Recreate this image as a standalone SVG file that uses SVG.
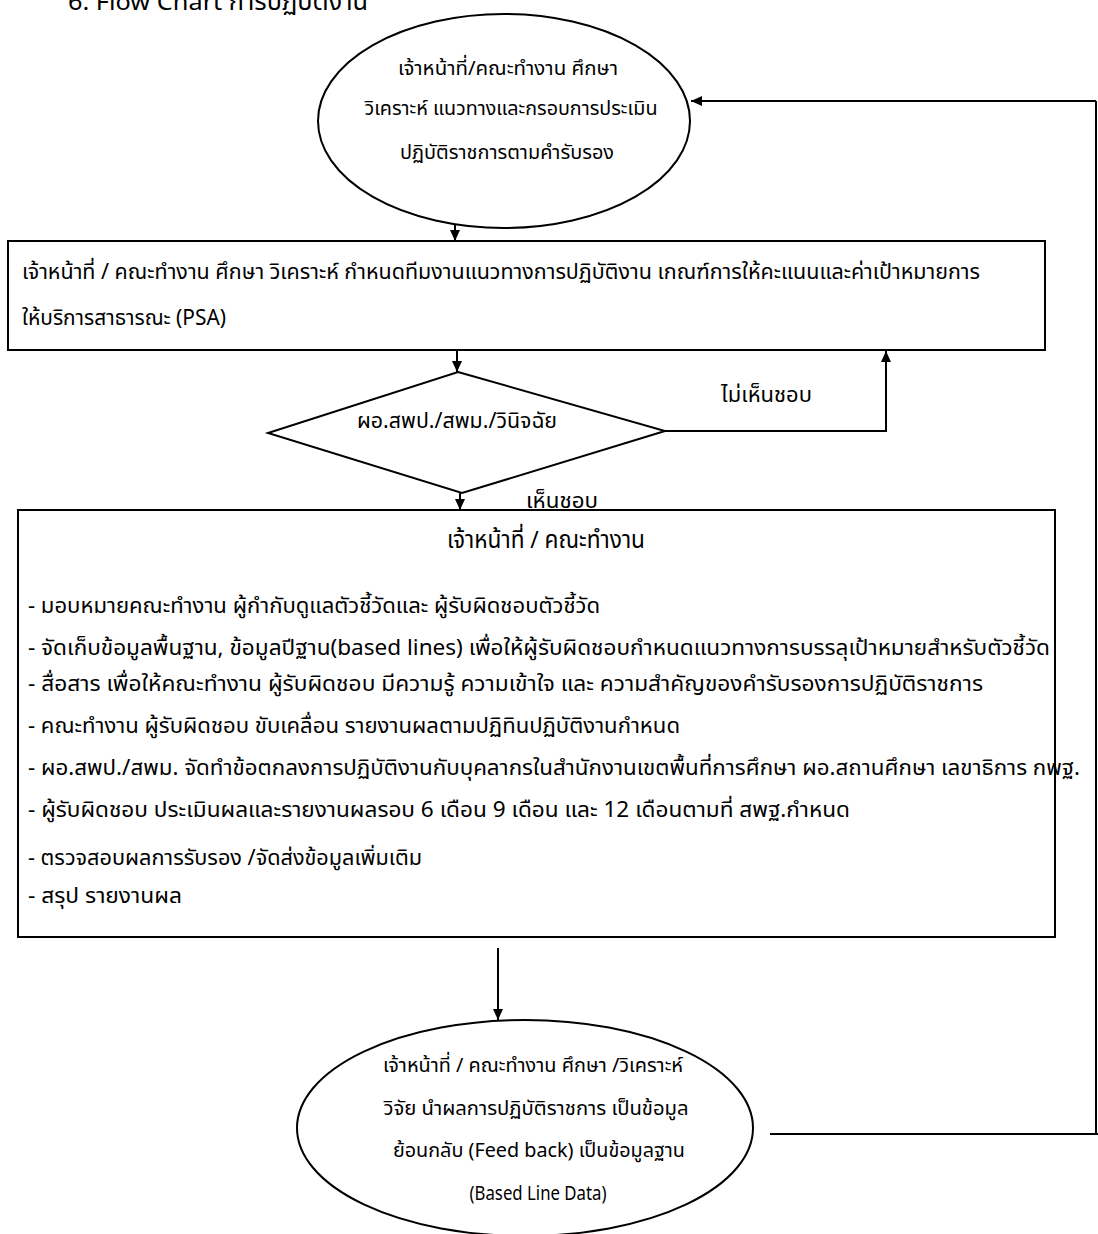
<svg xmlns="http://www.w3.org/2000/svg" width="1098" height="1234" viewBox="0 0 1098 1234">
<defs>
<marker id="arr" markerWidth="12" markerHeight="12" refX="11" refY="6" orient="auto" markerUnits="userSpaceOnUse">
<path d="M0,1 L11,6 L0,11 Z" fill="#000"/>
</marker>
<style>
.shape{fill:#fff;stroke:#000;stroke-width:2}
.conn{fill:none;stroke:#000;stroke-width:2}
.t{font-family:"Noto Sans Thai","Noto Sans","DejaVu Sans",sans-serif;font-size:21px;fill:#000}
.e{font-family:"Noto Sans Thai","Noto Sans","DejaVu Sans",sans-serif;font-size:20px;fill:#000}
.h{font-family:"Noto Sans Thai","Noto Sans","DejaVu Sans",sans-serif;font-size:24px;fill:#000}
</style>
</defs>
<rect width="1098" height="1234" fill="#fff"/>
<text class="h" x="68" y="10" textLength="300" lengthAdjust="spacingAndGlyphs">6. Flow Chart การปฏิบัติงาน</text>

<g id="connectors">
<line class="conn" x1="455" y1="224" x2="455" y2="241" marker-end="url(#arr)"/>
<line class="conn" x1="457" y1="350" x2="457" y2="372" marker-end="url(#arr)"/>
<polyline class="conn" points="665,431 886,431 886,351" marker-end="url(#arr)"/>
<line class="conn" x1="460" y1="493" x2="460" y2="510" marker-end="url(#arr)"/>
<line class="conn" x1="498" y1="948" x2="498" y2="1020" marker-end="url(#arr)"/>
<line class="conn" x1="770" y1="1134" x2="1098" y2="1134"/>
<line class="conn" x1="1096" y1="1134" x2="1096" y2="101"/>
<line class="conn" x1="1096" y1="101" x2="691" y2="101" marker-end="url(#arr)"/>
<text class="t" x="721" y="402" textLength="91" lengthAdjust="spacingAndGlyphs">ไม่เห็นชอบ</text>
<text class="t" x="526" y="508" textLength="72" lengthAdjust="spacingAndGlyphs">เห็นชอบ</text>
</g>

<g id="start">
<ellipse class="shape" cx="504" cy="121" rx="186" ry="107"/>
<text class="e" x="508" y="75" text-anchor="middle" textLength="220" lengthAdjust="spacingAndGlyphs">เจ้าหน้าที่/คณะทำงาน ศึกษา</text>
<text class="e" x="511" y="115" text-anchor="middle" textLength="293" lengthAdjust="spacingAndGlyphs">วิเคราะห์ แนวทางและกรอบการประเมิน</text>
<text class="e" x="507" y="159" text-anchor="middle" textLength="214" lengthAdjust="spacingAndGlyphs">ปฏิบัติราชการตามคำรับรอง</text>
</g>

<g id="define">
<rect class="shape" x="8" y="241" width="1037" height="109"/>
<text class="t" x="22" y="279" textLength="958" lengthAdjust="spacingAndGlyphs">เจ้าหน้าที่ / คณะทำงาน ศึกษา  วิเคราะห์  กำหนดทีมงานแนวทางการปฏิบัติงาน เกณฑ์การให้คะแนนและค่าเป้าหมายการ</text>
<text class="t" x="22" y="325" textLength="204" lengthAdjust="spacingAndGlyphs">ให้บริการสาธารณะ (PSA)</text>
</g>

<g id="decision">
<polygon class="shape" points="458,372 665,431 462,493 268,433"/>
<text class="t" x="357" y="428" textLength="200" lengthAdjust="spacingAndGlyphs">ผอ.สพป./สพม./วินิจฉัย</text>
</g>

<g id="tasks">
<rect class="shape" x="18" y="510" width="1037" height="427"/>
<text class="h" x="447" y="548" textLength="198" lengthAdjust="spacingAndGlyphs">เจ้าหน้าที่ / คณะทำงาน</text>
<text class="t" x="28" y="613" textLength="572" lengthAdjust="spacingAndGlyphs">- มอบหมายคณะทำงาน  ผู้กำกับดูแลตัวชี้วัดและ ผู้รับผิดชอบตัวชี้วัด</text>
<text class="t" x="28" y="655" textLength="1022" lengthAdjust="spacingAndGlyphs">- จัดเก็บข้อมูลพื้นฐาน, ข้อมูลปีฐาน(based  lines)  เพื่อให้ผู้รับผิดชอบกำหนดแนวทางการบรรลุเป้าหมายสำหรับตัวชี้วัด</text>
<text class="t" x="28" y="691" textLength="955" lengthAdjust="spacingAndGlyphs">- สื่อสาร เพื่อให้คณะทำงาน  ผู้รับผิดชอบ  มีความรู้   ความเข้าใจ และ ความสำคัญของคำรับรองการปฏิบัติราชการ</text>
<text class="t" x="28" y="733" textLength="652" lengthAdjust="spacingAndGlyphs">- คณะทำงาน ผู้รับผิดชอบ ขับเคลื่อน  รายงานผลตามปฏิทินปฏิบัติงานกำหนด</text>
<text class="t" x="28" y="775" textLength="1052" lengthAdjust="spacingAndGlyphs">- ผอ.สพป./สพม. จัดทำข้อตกลงการปฏิบัติงานกับบุคลากรในสำนักงานเขตพื้นที่การศึกษา ผอ.สถานศึกษา เลขาธิการ กพฐ.</text>
<text class="t" x="28" y="817" textLength="822" lengthAdjust="spacingAndGlyphs">- ผู้รับผิดชอบ ประเมินผลและรายงานผลรอบ 6 เดือน 9 เดือน  และ  12  เดือนตามที่ สพฐ.กำหนด</text>
<text class="t" x="28" y="865" textLength="394" lengthAdjust="spacingAndGlyphs">- ตรวจสอบผลการรับรอง /จัดส่งข้อมูลเพิ่มเติม</text>
<text class="t" x="28" y="903" textLength="154" lengthAdjust="spacingAndGlyphs">- สรุป รายงานผล</text>
</g>

<g id="feedback">
<ellipse class="shape" cx="525" cy="1128" rx="228" ry="108"/>
<text class="e" x="533" y="1072" text-anchor="middle" textLength="300" lengthAdjust="spacingAndGlyphs">เจ้าหน้าที่ / คณะทำงาน ศึกษา /วิเคราะห์</text>
<text class="e" x="536" y="1115" text-anchor="middle" textLength="305" lengthAdjust="spacingAndGlyphs">วิจัย  นำผลการปฏิบัติราชการ เป็นข้อมูล</text>
<text class="e" x="539" y="1157" text-anchor="middle" textLength="292" lengthAdjust="spacingAndGlyphs">ย้อนกลับ (Feed back)   เป็นข้อมูลฐาน</text>
<text class="e" x="538" y="1200" text-anchor="middle" textLength="137" lengthAdjust="spacingAndGlyphs">(Based Line Data)</text>
</g>
</svg>
